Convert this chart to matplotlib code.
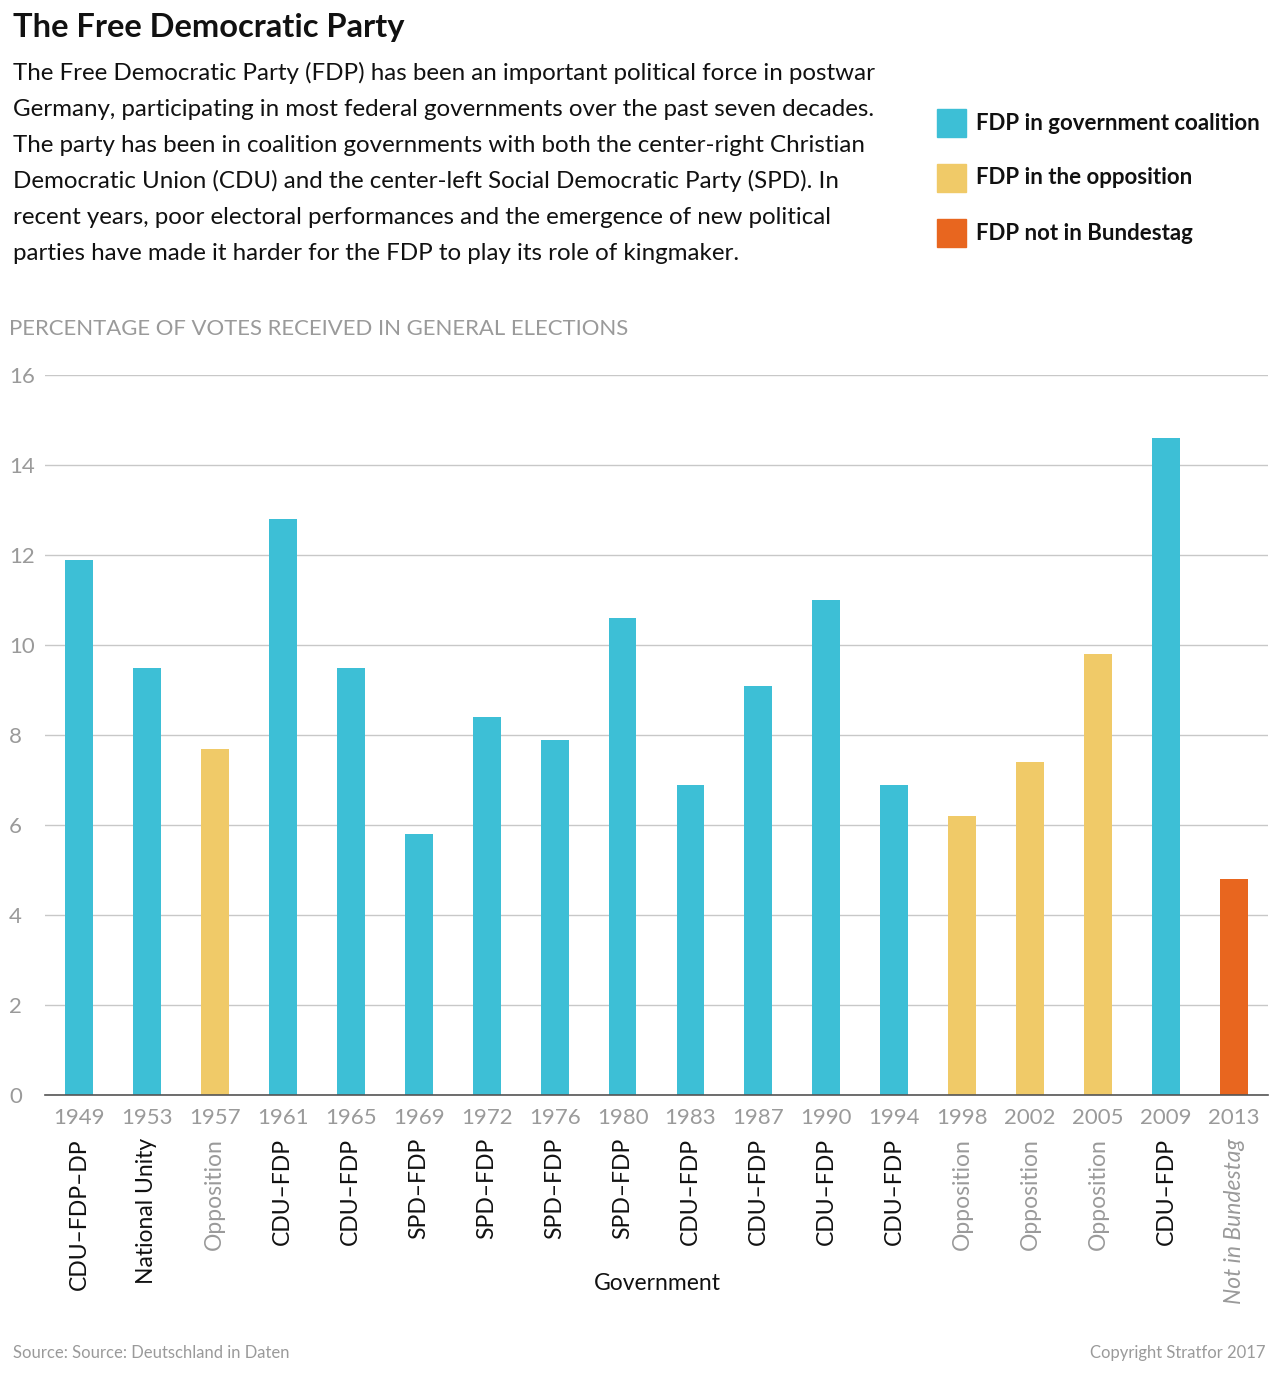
import matplotlib
matplotlib.use("Agg")
import matplotlib.pyplot as plt
from matplotlib.patches import Rectangle
import matplotlib.transforms as mtransforms

plt.rcParams['font.family'] = ['Lato', 'DejaVu Sans']

years = ["1949", "1953", "1957", "1961", "1965", "1969", "1972", "1976", "1980",
         "1983", "1987", "1990", "1994", "1998", "2002", "2005", "2009", "2013"]
governments = ["CDU–FDP–DP", "National Unity", "Opposition", "CDU–FDP", "CDU–FDP",
               "SPD–FDP", "SPD–FDP", "SPD–FDP", "SPD–FDP", "CDU–FDP", "CDU–FDP",
               "CDU–FDP", "CDU–FDP", "Opposition", "Opposition", "Opposition",
               "CDU–FDP", "Not in Bundestag"]
votes = [11.9, 9.5, 7.7, 12.8, 9.5, 5.8, 8.4, 7.9, 10.6, 6.9, 9.1, 11.0, 6.9,
         6.2, 7.4, 9.8, 14.6, 4.8]
status = ["gov", "gov", "opp", "gov", "gov", "gov", "gov", "gov", "gov", "gov",
          "gov", "gov", "gov", "opp", "opp", "opp", "gov", "out"]

status_colors = {"gov": "#3DBFD6", "opp": "#F0CA68", "out": "#E8661F"}
legend_labels = {"gov": "FDP in government coalition",
                 "opp": "FDP in the opposition",
                 "out": "FDP not in Bundestag"}

W, H = 1280, 1378
fig = plt.figure(figsize=(W / 100, H / 100), dpi=100)

def fx(px):
    return px / W

def fy(py):
    return 1 - py / H

GRAY = "#9a9a9a"

ax = fig.add_axes([fx(45), fy(1095), fx(1268) - fx(45), fy(375) - fy(1095)])
xs = list(range(len(years)))
ax.bar(xs, votes, width=0.41, color=[status_colors[s] for s in status], zorder=3)
ax.set_xlim(-0.5, len(years) - 0.5)
ax.set_ylim(0, 16)
ax.set_yticks(range(0, 17, 2))
ax.set_yticklabels([str(v) for v in range(0, 17, 2)], color=GRAY, fontsize=16)
for lab in ax.get_yticklabels():
    lab.set_horizontalalignment("left")
ax.tick_params(axis="y", length=0, pad=26)
ax.grid(axis="y", color="#c8c8c8", linewidth=1, zorder=0)
ax.set_xticks(xs)
ax.set_xticklabels(years, color=GRAY, fontsize=16)
ax.tick_params(axis="x", length=0, pad=9)
for sp in ["top", "right", "left"]:
    ax.spines[sp].set_visible(False)
ax.spines["bottom"].set_color("#555555")
ax.spines["bottom"].set_linewidth(1.2)
ax.spines["bottom"].set_zorder(4)

trans = mtransforms.blended_transform_factory(ax.transData, fig.transFigure)
for i, g in enumerate(governments):
    if status[i] == "gov":
        c, st = "#111111", "normal"
    elif status[i] == "opp":
        c, st = GRAY, "normal"
    else:
        c, st = GRAY, "italic"
    ax.text(i, fy(1138), g, transform=trans, rotation=90, ha="center", va="top",
            fontsize=16.5, color=c, style=st)

fig.text(fx(657), fy(1283), "Government", ha="center", va="center",
         fontsize=16.5, color="#111111")

# Title & description
fig.text(fx(13), fy(28), "The Free Democratic Party", ha="left", va="center",
         fontsize=23.5, fontweight="bold", color="#111111")
desc = ["The Free Democratic Party (FDP) has been an important political force in postwar",
        "Germany, participating in most federal governments over the past seven decades.",
        "The party has been in coalition governments with both the center-right Christian",
        "Democratic Union (CDU) and the center-left Social Democratic Party (SPD). In",
        "recent years, poor electoral performances and the emergence of new political",
        "parties have made it harder for the FDP to play its role of kingmaker."]
for k, line in enumerate(desc):
    fig.text(fx(13), fy(73 + 36 * k), line, ha="left", va="center",
             fontsize=17.4, color="#111111")

# Legend
for k, key in enumerate(["gov", "opp", "out"]):
    yc = 123 + 55 * k
    fig.patches.append(Rectangle((fx(937), fy(yc + 14)), fx(29), fy(yc - 14) - fy(yc + 14),
                                 transform=fig.transFigure, color=status_colors[key]))
    fig.text(fx(976), fy(yc), legend_labels[key], ha="left", va="center",
             fontsize=16, fontweight="bold", color="#111111")

fig.text(fx(9), fy(329), "PERCENTAGE OF VOTES RECEIVED IN GENERAL ELECTIONS",
         ha="left", va="center", fontsize=15.9, color=GRAY)

fig.text(fx(13), fy(1353), "Source: Source: Deutschland in Daten", ha="left",
         va="center", fontsize=12, color=GRAY)
fig.text(fx(1266), fy(1353), "Copyright Stratfor 2017", ha="right",
         va="center", fontsize=12, color=GRAY)

fig.savefig("out.png", dpi=100, facecolor="white")
